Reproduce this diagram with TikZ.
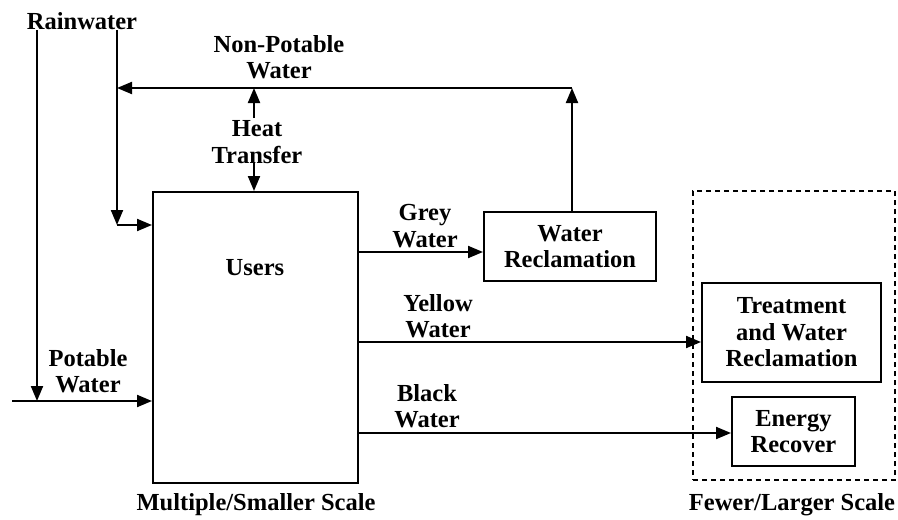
\documentclass[tikz,border=0pt]{standalone}
\usepackage{fontspec}
\setmainfont{Liberation Serif}
\usetikzlibrary{arrows.meta}
\begin{document}
\begin{tikzpicture}[x=1pt,y=-1pt,
  font=\bfseries\fontsize{24.5}{26.5}\selectfont,
  line width=2pt,
  arr/.style={-{Triangle[length=15pt,width=12pt]}},
  box/.style={draw,rectangle,inner sep=0pt,align=center},
  txt/.style={align=center,inner sep=0pt}]
\useasboundingbox (0,0) rectangle (898,520);
% boxes
\node[box,minimum width=205pt,minimum height=291pt] (users) at (255.5,337.5) {};
\node[txt] (userstxt) at (255,268) {Users};
\node[box,minimum width=172pt,minimum height=69pt] (wr) at (570,246.5) {Water\\[-1pt]Reclamation};
\node[box,minimum width=179pt,minimum height=99pt] (treat) at (791.5,332.5) {Treatment\\and Water\\Reclamation};
\node[box,minimum width=123pt,minimum height=69pt] (energy) at (793.5,431.5) {Energy\\Recover};
\node[draw,dashed,dash pattern=on 5pt off 4pt,rectangle,minimum width=202pt,minimum height=289pt,inner sep=0pt] (large) at (794,335.5) {};
% texts
\node[txt] (rain) at (82,21) {Rainwater};
\node[txt] (nonpot) at (279,57) {Non-Potable\\Water};
\node[txt] (heat) at (257,142) {Heat\\Transfer};
\node[txt] (grey) at (425,226) {Grey\\Water};
\node[txt] (yellow) at (438,316) {Yellow\\Water};
\node[txt] (black) at (427,406) {Black\\Water};
\node[txt] (potable) at (88,371) {Potable\\Water};
\node[txt] (multi) at (256,505) {Multiple/Smaller Scale};
\node[txt] (fewer) at (792,505) {Fewer/Larger Scale};
% coordinates
\coordinate (r1top) at (37,30);
\coordinate (r2top) at (117,30);
\coordinate (r1bot) at (37,401);
\coordinate (r2bot) at (117,225);
\coordinate (pstart) at (12,401);
\coordinate (npcorner) at (572,88);
\coordinate (npend) at (117,88);
\coordinate (htop) at (254,88);
\coordinate (hup) at (254,118);
\coordinate (hdown) at (254,162);
\coordinate (ygrey) at (0,252);
\coordinate (yyellow) at (0,342);
\coordinate (yblack) at (0,433);
% connectors
\draw[arr] (r1top) -- (r1bot);
\draw[arr] (pstart) -- (pstart -| users.west);
\draw[arr] (r2top) -- (r2bot);
\draw[arr] (r2bot) -- (r2bot -| users.west);
\draw[arr] (wr.north -| npcorner) -- (npcorner);
\draw[arr] (npcorner) -- (npend);
\draw[arr] (hup) -- (htop);
\draw[arr] (hdown) -- (hdown |- users.north);
\draw[arr] (users.east |- ygrey) -- (wr.west |- ygrey);
\draw[arr] (users.east |- yyellow) -- (treat.west |- yyellow);
\draw[arr] (users.east |- yblack) -- (energy.west |- yblack);
\end{tikzpicture}
\end{document}
